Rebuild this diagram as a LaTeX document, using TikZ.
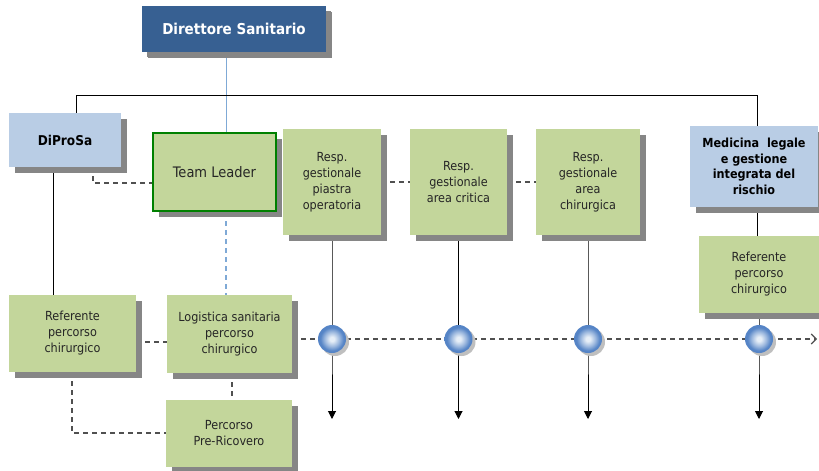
\documentclass[tikz,border=0pt]{standalone}
\usepackage{fontspec}
\setmainfont{DejaVu Sans Condensed}
\usetikzlibrary{shadows,arrows.meta,backgrounds}
\definecolor{gfill}{HTML}{C3D69B}
\definecolor{bfill}{HTML}{B9CDE5}
\definecolor{dblue}{HTML}{376092}
\definecolor{tlgreen}{HTML}{008000}
\definecolor{shad}{HTML}{868686}
\definecolor{lblue}{HTML}{7FA9D6}
\definecolor{dashc}{HTML}{505050}
\definecolor{sphout}{HTML}{5584C6}
\definecolor{sphin}{HTML}{E6EEF7}
\pgfdeclareradialshading{sph}{\pgfpoint{0bp}{0bp}}{color(0bp)=(sphin); color(4bp)=(sphin); color(13bp)=(sphin!50!sphout); color(21bp)=(sphout); color(50bp)=(sphout)}
\begin{document}
\begin{tikzpicture}[x=1pt,y=-1pt,
  box/.style={rectangle, inner sep=2pt, align=center, text=black!85,
    font=\fontsize{12.5}{16}\selectfont,
    drop shadow={shadow xshift=6pt, shadow yshift=-6pt, fill=shad, opacity=1}},
  gbox/.style={box, fill=gfill},
  bbox/.style={box, fill=bfill, text=black, font=\fontsize{12.5}{15.5}\selectfont\bfseries},
  dirbox/.style={box, fill=dblue, text=white, font=\fontsize{15}{17}\selectfont\bfseries,
    drop shadow={shadow xshift=5pt, shadow yshift=-5pt, fill=shad, opacity=1}},
  sphnode/.style={circle, minimum size=28pt, inner sep=0pt, shading=sph,
    drop shadow={shadow xshift=3pt, shadow yshift=-3pt, fill=black!25, opacity=1}},
  conn/.style={line width=1pt, black},
  dsh/.style={line width=1.1pt, dashc, dash pattern=on 5pt off 4pt},
  downarrow/.style={conn, -{Triangle[length=8pt,width=8pt]}}
]
\useasboundingbox (0,0) rectangle (819,471);

\node[dirbox, minimum width=184pt, minimum height=46pt] (dir) at (234,29) {Direttore Sanitario};
\node[bbox, minimum width=112pt, minimum height=54pt, font=\fontsize{13.5}{16}\selectfont\bfseries] (dipro) at (65,140) {DiProSa};
\node[gbox, draw=tlgreen, line width=2pt, minimum width=123pt, minimum height=78pt,
  font=\fontsize{14.5}{16}\selectfont] (team) at (214.5,172) {Team Leader};
\node[gbox, minimum width=98pt, minimum height=106pt] (r1) at (332,182) {Resp.\\gestionale\\piastra\\operatoria};
\node[gbox, minimum width=97pt, minimum height=106pt] (r2) at (458.5,182) {Resp.\\gestionale\\area critica};
\node[gbox, minimum width=104pt, minimum height=106pt] (r3) at (588,182) {Resp.\\gestionale\\area\\chirurgica};
\node[bbox, minimum width=128pt, minimum height=81pt] (med) at (754,166.5) {Medicina\ \ legale\\e gestione\\integrata del\\rischio};
\node[gbox, minimum width=120pt, minimum height=77pt] (refR) at (759,274.5) {Referente\\percorso\\chirurgico};
\node[gbox, minimum width=127pt, minimum height=77pt] (refL) at (72.5,333.5) {Referente\\percorso\\chirurgico};
\node[gbox, minimum width=125pt, minimum height=78pt] (log) at (229.5,334) {Logistica sanitaria\\percorso\\chirurgico};
\node[gbox, minimum width=126pt, minimum height=67pt] (pre) at (229,433.5) {Percorso\\Pre-Ricovero};

\node[sphnode] (c1) at (332,339) {};
\node[sphnode] (c2) at (458.5,339) {};
\node[sphnode] (c3) at (588,339) {};
\node[sphnode] (c4) at (759,339) {};

\coordinate (a1) at (332,419);
\coordinate (a2) at (458.5,419);
\coordinate (a3) at (588,419);
\coordinate (a4) at (759,419);
\coordinate (xend) at (817,339);

\begin{scope}[on background layer]
  \draw[lblue, line width=1pt] (dir.south -| 226,0) -- (team.north -| 226,0);
  \draw[conn] (dipro.north -| 76,0) -- (76,95) -| (med.north -| 757,0);
  \draw[conn] (dipro.south -| 53,0) -- (refL.north -| 53,0);
  \draw[conn] (med.south -| 757,0) -- (refR.north -| 757,0);
  \draw[downarrow] (r1.south) -- (c1.center) -- (a1);
  \draw[downarrow] (r2.south) -- (c2.center) -- (a2);
  \draw[downarrow] (r3.south) -- (c3.center) -- (a3);
  \draw[downarrow] (refR.south) -- (c4.center) -- (a4);
  \draw[dsh] (dipro.south -| 93,0) |- (team.west |- 0,183);
  \draw[dsh] (r1.east) -- (r2.west);
  \draw[dsh] (r2.east) -- (r3.west);
  \draw[dsh] (refL.east |- 0,342) -- (log.west |- 0,342);
  \draw[dsh, lblue] (team.south -| 226,0) -- (log.north -| 226,0);
  \draw[dsh] (log.south -| 232,0) -- (pre.north -| 232,0);
  \draw[dsh] (refL.south -| 72,0) |- (pre.west |- 0,433);
  \draw[dsh, -{Straight Barb[length=5pt,width=10pt]}] (log.east |- 0,339) -- (xend);
\end{scope}
\end{tikzpicture}
\end{document}
